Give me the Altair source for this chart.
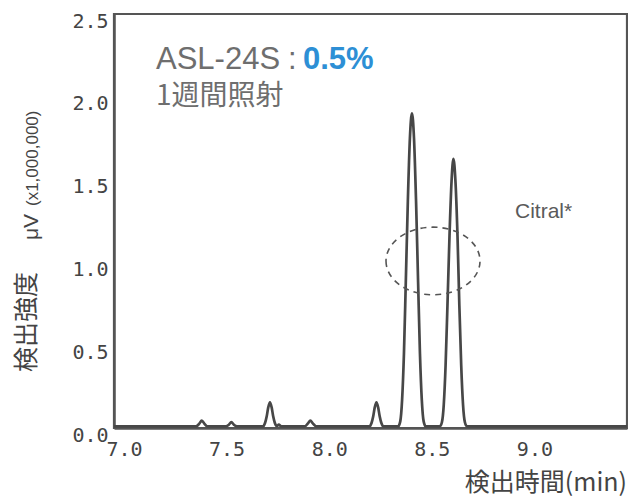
import altair as alt
import pandas as pd

# Chromatogram trace (time in min, intensity in µV x1,000,000)
time_min = [
    7.00, 7.40, 7.415, 7.428, 7.441, 7.455,
    7.545, 7.560, 7.572, 7.584, 7.600,
    7.726, 7.736, 7.744, 7.752, 7.760, 7.768, 7.776, 7.784, 7.794,
    7.803, 7.815,
    7.930, 7.945, 7.957, 7.969, 7.985,
    8.245, 8.255, 8.263, 8.271, 8.279, 8.287, 8.295, 8.303, 8.313,
    8.385, 8.395, 8.404, 8.413, 8.422, 8.432, 8.442, 8.452, 8.462, 8.472, 8.482, 8.491, 8.500, 8.509, 8.519,
    8.588, 8.598, 8.607, 8.616, 8.625, 8.635, 8.645, 8.654, 8.664, 8.674, 8.683, 8.692, 8.701, 8.710, 8.720,
    9.50,
]
intensity = [
    0.010, 0.010, 0.025, 0.045, 0.025, 0.010,
    0.010, 0.020, 0.035, 0.020, 0.010,
    0.010, 0.030, 0.069, 0.126, 0.155, 0.126, 0.069, 0.030, 0.012,
    0.020, 0.010,
    0.010, 0.028, 0.045, 0.028, 0.010,
    0.010, 0.030, 0.069, 0.126, 0.155, 0.126, 0.069, 0.030, 0.010,
    0.010, 0.040, 0.170, 0.450, 0.880, 1.370, 1.750, 1.900, 1.750, 1.370, 0.880, 0.450, 0.170, 0.040, 0.010,
    0.010, 0.035, 0.140, 0.380, 0.740, 1.160, 1.490, 1.625, 1.490, 1.160, 0.740, 0.380, 0.140, 0.035, 0.010,
    0.010,
]

x_ticks = [7.0, 7.5, 8.0, 8.5, 9.0]
y_ticks = [0.0, 0.5, 1.0, 1.5, 2.0, 2.5]

title_main = ["ASL-24S"]
title_colon = [":"]
title_pct = ["0.5%"]
title_sub = ["1週間照射"]
label_citral = ["Citral*"]
y_title_jp = ["検出強度"]
y_title_unit = ["μV"]
y_title_scale = ["(x1,000,000)"]
x_title = ["検出時間(min)"]
ellipse_marker = ["Citral region"]

df = pd.DataFrame({"time": time_min, "intensity": intensity})

GRAY = "#6e6e6e"
DARK = "#444444"

line = alt.Chart(df).mark_line(
    color="#474747", strokeWidth=2.7, interpolate="monotone", clip=True
).encode(
    x=alt.X(
        "time:Q",
        scale=alt.Scale(domain=[7.0, 9.5], nice=False, zero=False),
        axis=alt.Axis(
            values=x_ticks, title=None, grid=False, ticks=False,
            labelFont="DejaVu Sans Mono", labelFontSize=20, labelColor=DARK,
            labelPadding=11, labelOffset=10, labelBaseline="top",
            domainColor="#555555", domainWidth=2.5, labelFlush=False,
            format=".1f",
        ),
    ),
    y=alt.Y(
        "intensity:Q",
        scale=alt.Scale(domain=[0, 2.5], nice=False),
        axis=alt.Axis(
            values=y_ticks, title=None, grid=False, ticks=False,
            labelFont="DejaVu Sans Mono", labelFontSize=20, labelColor=DARK,
            labelPadding=6, labelOffset=7, labelFlush=False,
            domainColor="#555555", domainWidth=2.5, format=".1f",
        ),
    ),
)


def txt(values, x, y, size, color, font, align="left", baseline="alphabetic",
        angle=0, weight="normal"):
    return alt.Chart(pd.DataFrame({"t": values})).mark_text(
        align=align, baseline=baseline, fontSize=size, color=color, font=font,
        angle=angle, fontWeight=weight,
    ).encode(x=alt.value(x), y=alt.value(y), text="t:N")


ellipse = alt.Chart(pd.DataFrame({"t": ellipse_marker})).mark_point(
    shape="M-1,0A1,0.72 0 1,0 1,0A1,0.72 0 1,0 -1,0Z",
    filled=False, stroke="#555555", strokeWidth=1.6, strokeDash=[6, 5],
    opacity=1,
).encode(x=alt.value(319), y=alt.value(247), size=alt.value(8836))

layers = [
    line,
    ellipse,
    txt(title_main, 42, 55, 31, GRAY, "Liberation Sans"),
    txt(title_colon, 174, 55, 31, GRAY, "Liberation Sans"),
    txt(title_pct, 189, 55, 31, "#2d8fd5", "Liberation Sans", weight="bold"),
    txt(title_sub, 42, 91, 28, GRAY, "Noto Sans CJK JP"),
    txt(label_citral, 401, 204, 21, "#5a5a5a", "Liberation Sans"),
    txt(y_title_jp, -87, 358, 25, DARK, "Noto Sans CJK JP", align="left",
        baseline="middle", angle=270),
    txt(y_title_unit, -76, 226, 21, DARK, "Liberation Sans", angle=270),
    txt(y_title_scale, -76, 192, 17, DARK, "Liberation Sans", angle=270),
    txt(x_title, 513, 477, 25, DARK, "Noto Sans CJK JP", align="right"),
]

chart = alt.layer(*layers).properties(
    width=513,
    height=414,
    autosize=alt.AutoSizeParams(type="none"),
    padding={"left": 106, "top": 6, "right": 1, "bottom": 71},
    background="white",
).configure_view(stroke="#555555", strokeWidth=2.2)

chart.save("out.html", embed_options={"renderer": "svg", "actions": False})
